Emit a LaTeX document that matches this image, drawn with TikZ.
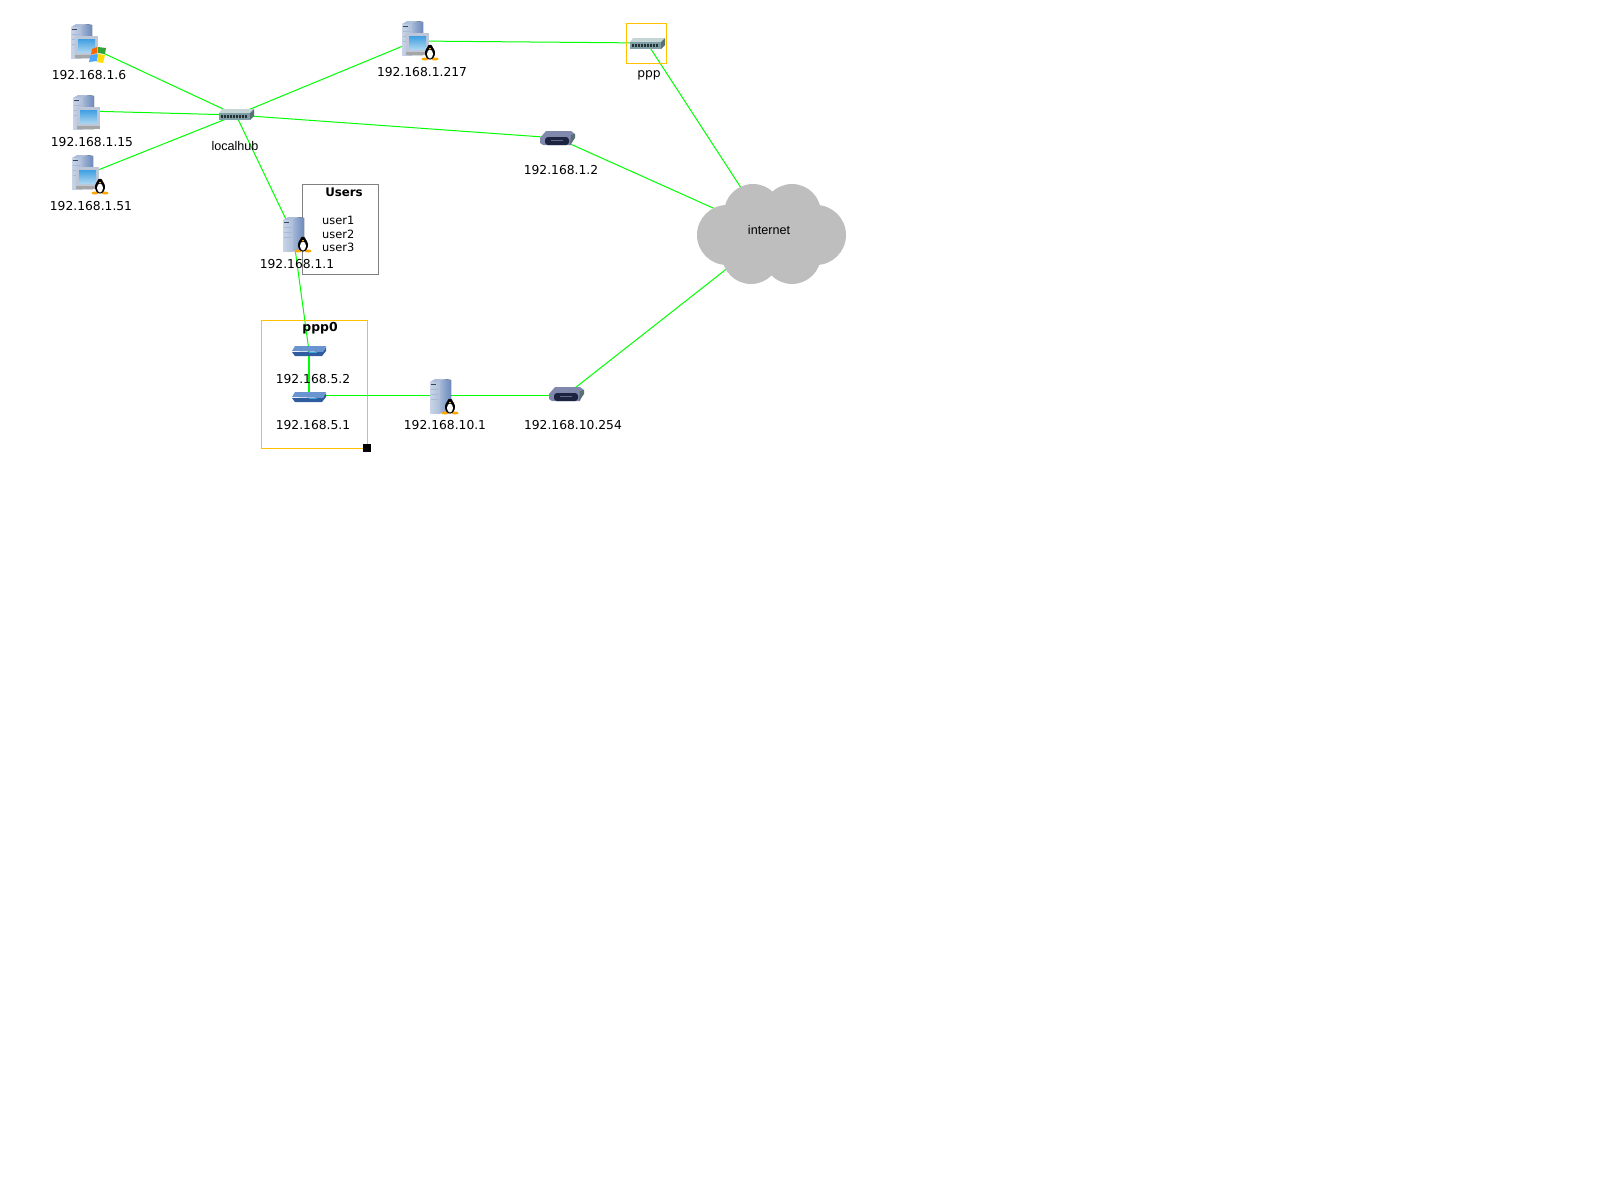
\documentclass[tikz,border=0pt]{standalone}
\usepackage{fontspec}
\setmainfont{DejaVu Sans}
\newfontfamily\hubfont{Liberation Sans}
\definecolor{linkgreen}{HTML}{00FF00}
\definecolor{boxyellow}{HTML}{FFC000}
\definecolor{cloudgrey}{HTML}{BEBEBE}
\definecolor{towerlight}{HTML}{C8D4E6}
\definecolor{towerdark}{HTML}{6C8ABC}
\definecolor{screenblue}{HTML}{3F9FE0}
\definecolor{hubtop}{HTML}{C6D6D6}
\definecolor{hubfront}{HTML}{7E9EA6}
\definecolor{routertop}{HTML}{8088AC}
\definecolor{routerdark}{HTML}{1C2440}
\definecolor{ifacetop}{HTML}{6A94D0}
\definecolor{ifacefront}{HTML}{2F5C9E}
\tikzset{
  link/.style={draw=linkgreen,line width=1pt},
  addr/.style={font=\fontsize{12.3}{14}\selectfont,inner sep=0pt},
  hublabel/.style={font=\hubfont\fontsize{12.6}{14}\selectfont,inner sep=0pt},
  boldlabel/.style={font=\bfseries\fontsize{11.8}{14}\selectfont,inner sep=0pt},
  tower/.pic={
    \fill[left color=towerlight!60!towerdark,right color=towerdark] (10,3) -- (15,0) -- (21,1) -- (21,34) -- (10,34) -- cycle;
    \fill[towerlight!70!towerdark] (0,3) -- (5,0) -- (15,0) -- (10,3) -- cycle;
    \fill[left color=towerlight,right color=towerlight!70!towerdark] (0,3) rectangle (10,34);
    \fill[towerdark!50!black] (1,5) rectangle (6,6);
    \draw[towerdark!60,line width=.5pt] (1,10) -- (9,10) (1,15) -- (9,15) (1,20) -- (9,20);
  },
  desktop/.pic={
    \pic {tower};
    \fill[towerlight!85!gray] (4,12) rectangle (27,31);
    \fill[gray!70] (4,31) rectangle (27,34);
    \fill[top color=screenblue,bottom color=screenblue!45] (7,15) rectangle (24,28);
  },
  tux/.pic={
    \fill[orange!70!yellow] (0,14) ellipse [x radius=3.5,y radius=1.5];
    \fill[orange!70!yellow] (10,14) ellipse [x radius=3.5,y radius=1.5];
    \fill[black] (5,8) ellipse [x radius=5,y radius=6.5];
    \fill[black] (5,2.5) circle [radius=2.8];
    \fill[white] (5,9) ellipse [x radius=3,y radius=4.5];
    \fill[orange!70!yellow] (4,3) rectangle (6,4);
  },
  winflag/.pic={
    \fill[orange!80!red] (3,3) -- (8,1) -- (8,7) -- (2,8.5) -- cycle;
    \fill[green!55!black!80] (9,1) -- (17,2) -- (16,8) -- (9,7) -- cycle;
    \fill[blue!50!cyan!70] (1.5,9.5) -- (8,8) -- (8,15) -- (0,16) -- cycle;
    \fill[yellow!80!orange] (9,8) -- (16,9) -- (14,17) -- (8,16) -- cycle;
  },
  hubicon/.pic={
    \fill[hubtop] (0,4) -- (3,0) -- (35,0) -- (31,4) -- cycle;
    \fill[hubfront] (0,4) rectangle (31,11);
    \fill[hubfront!70!black] (31,4) -- (35,0) -- (35,7) -- (31,11) -- cycle;
    \draw[black!70!hubfront,line width=3pt,dash pattern=on 2pt off 1pt] (2,7.5) -- (29,7.5);
  },
  routericon/.pic={
    \fill[routertop] (0,7) -- (6,0) -- (31,0) -- (35,3) -- (31,14) -- (3,14) -- (0,12) -- cycle;
    \fill[hubfront!70!black] (31,4) -- (35,3) -- (35,7) -- (30,14) -- cycle;
    \fill[routerdark,rounded corners=3pt] (5,6) rectangle (29,14);
    \draw[routertop!70!routerdark,line width=.7pt] (11,9.5) -- (23,9.5);
  },
  ifaceicon/.pic={
    \fill[ifacetop] (0,5) -- (3,0) -- (34,0) -- (31,6) -- cycle;
    \fill[ifacefront] (0,6) -- (31,6) -- (34,1) -- (34,5) -- (30,10) -- (3,10) -- cycle;
    \draw[cyan!60!ifacetop,line width=1pt] (17,6.5) -- (25,6.5);
  },
}
\begin{document}
\begin{tikzpicture}[x=1pt,y=-1pt]
\useasboundingbox (0,0) rectangle (1600,1200);
% device centres
\coordinate (pcsix) at (88,46);
\coordinate (pcfifteen) at (86,111);
\coordinate (pcfiftyone) at (88,174);
\coordinate (pcgate) at (415,41);
\coordinate (localhub) at (236,115);
\coordinate (ppphub) at (647,43);
\coordinate (routertwo) at (557,138);
\coordinate (servone) at (293,234);
\coordinate (ifacetwo) at (309,351);
\coordinate (ifaceone) at (309,395);
\coordinate (servten) at (443,395);
\coordinate (routerten) at (566,395);
\coordinate (internet) at (771,234);
% links
\draw [link] (pcsix) -- (localhub);
\draw [link] (pcfifteen) -- (localhub);
\draw [link] (pcfiftyone) -- (localhub);
\draw [link] (pcgate) -- (localhub);
\draw [link] (pcgate) -- (ppphub);
\draw [link] (localhub) -- (routertwo);
\draw [link] (localhub) -- (servone);
\draw [link] (servone) -- (ifacetwo);
\draw [link,line width=1.6pt] (ifacetwo) -- (ifaceone);
\draw [link] (ifaceone) -- (servten);
\draw [link] (servten) -- (routerten);
\draw [link] (ppphub) -- (internet);
\draw [link] (routertwo) -- (internet);
\draw [link] (routerten) -- (internet);
% cloud
\fill [cloudgrey] (727,235) circle [radius=30];
\fill [cloudgrey] (816,235) circle [radius=30];
\fill [cloudgrey] (753,213) circle [radius=29];
\fill [cloudgrey] (792,213) circle [radius=29];
\fill [cloudgrey] (751,255) circle [radius=29];
\fill [cloudgrey] (792,255) circle [radius=29];
% boxes
\draw [draw=gray] (302.5,184.5) rectangle (378.5,274.5);
\draw [draw=boxyellow] (261.5,320.5) rectangle (367.5,448.5);
\draw [draw=boxyellow] (626.5,23.5) rectangle (666.5,63.5);
\fill [black] (363,444) rectangle (371,452);
% icons
\pic at (71,24) {desktop};
\pic at (89,46) {winflag};
\pic at (73,95) {desktop};
\pic at (72,155) {desktop};
\pic at (95,179) {tux};
\pic at (402,21) {desktop};
\pic at (425,45) {tux};
\pic at (283,217) {tower};
\pic at (298,237) {tux};
\pic at (430,379) {tower};
\pic at (445,399) {tux};
\pic at (219,109) {hubicon};
\pic at (630,38) {hubicon};
\pic at (540,131) {routericon};
\pic at (549,387) {routericon};
\pic at (292,346) {ifaceicon};
\pic at (292,392) {ifaceicon};
% labels
\node [addr] (labsix) at (89,75) {192.168.1.6};
\node [addr] (labfifteen) at (92,142) {192.168.1.15};
\node [addr] (labfiftyone) at (91,206) {192.168.1.51};
\node [addr] (labgate) at (422,72) {192.168.1.217};
\node [addr] (labtwo) at (561,170) {192.168.1.2};
\node [addr] (labone) at (297,264) {192.168.1.1};
\node [addr] (labifacetwo) at (313,379) {192.168.5.2};
\node [addr] (labifaceone) at (313,425) {192.168.5.1};
\node [addr] (labten) at (445,425) {192.168.10.1};
\node [addr] (labrouter) at (573,425) {192.168.10.254};
\node [addr] (labppp) at (649,75) {ppp};
\node [hublabel] (lablocal) at (235,146) {localhub};
\node [hublabel] (labinternet) at (769,230) {internet};
\node [boldlabel] (labusers) at (344,192) {Users};
\node [boldlabel,font=\bfseries\fontsize{12.4}{14}\selectfont] (labpppzero) at (320,328) {ppp0};
\node [font=\fontsize{11.4}{13.7}\selectfont,inner sep=0pt,align=left,anchor=west] (userlist) at (322,234) {user1\\user2\\user3};
\end{tikzpicture}
\end{document}
